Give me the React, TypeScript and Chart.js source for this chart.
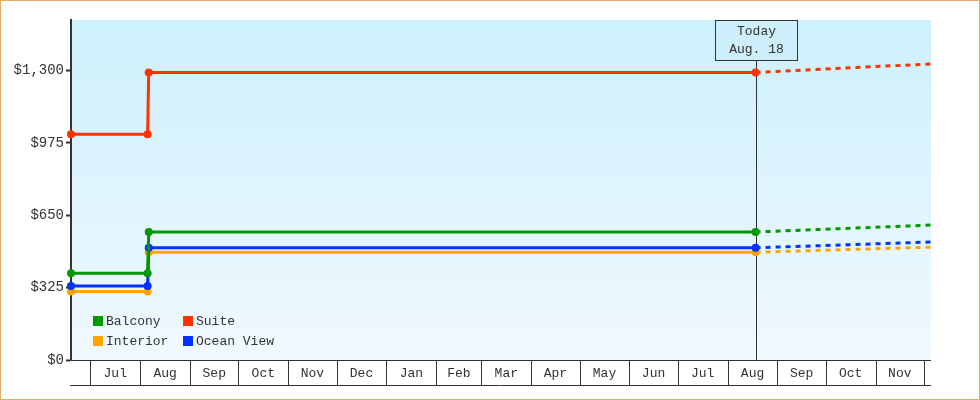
import React, { useEffect, useRef } from 'react';
import { Chart, registerables } from 'chart.js';

Chart.register(...registerables);

// x values are days counted from Jul 1 of the first year
const seriesNames = ['Balcony', 'Suite', 'Interior', 'Ocean View'];
const seriesColors = ['#009900', '#ff3300', '#ffa500', '#0033ff'];
const historyDays = [-12, 35.6, 36.3, 413.4];
const balconyPrices = [390, 390, 575, 575];
const suitePrices = [1014, 1014, 1291, 1291];
const interiorPrices = [308, 308, 484, 484];
const oceanViewPrices = [332, 332, 504, 504];
const forecastDays = [413.4, 522.4];
const balconyForecast = [575, 606];
const suiteForecast = [1291, 1330];
const interiorForecast = [484, 507];
const oceanViewForecast = [504, 530];
const yTicks = [0, 325, 650, 975, 1300];
const monthLabels = ['Jun', 'Jul', 'Aug', 'Sep', 'Oct', 'Nov', 'Dec', 'Jan', 'Feb', 'Mar', 'Apr', 'May', 'Jun', 'Jul', 'Aug', 'Sep', 'Oct', 'Nov', 'Dec'];
const monthStarts = [-30, 0, 31, 62, 92, 123, 153, 184, 215, 243, 274, 304, 335, 365, 396, 427, 457, 488, 518, 549];
const todayDay = 413.4;
const todayLines = ['Today', 'Aug. 18'];

const FONT = '"Liberation Mono", "DejaVu Sans Mono", monospace';
const INK = '#333333';

const pts = (xs: number[], ys: number[]) => xs.map((x, i) => ({ x, y: ys[i] }));

const chartDecor = {
  id: 'chartDecor',
  beforeDraw(chart: any) {
    const { ctx, chartArea: a, width, height } = chart;
    ctx.save();
    ctx.fillStyle = '#ffffff';
    ctx.fillRect(0, 0, width, height);
    ctx.strokeStyle = '#e9aa66';
    ctx.lineWidth = 1;
    ctx.strokeRect(0.5, 0.5, width - 1, height - 1);
    const g = ctx.createLinearGradient(0, a.top, 0, a.bottom);
    g.addColorStop(0, '#ccf0fd');
    g.addColorStop(1, '#f1f9fe');
    ctx.fillStyle = g;
    ctx.fillRect(a.left, a.top, a.right - a.left, a.bottom - a.top);
    ctx.restore();
  },
  beforeDatasetsDraw(chart: any) {
    const { ctx, chartArea: a } = chart;
    const xs = chart.scales.x;
    const tx = Math.round(xs.getPixelForValue(todayDay)) + 0.5;
    const bw = 82, bh = 40;
    ctx.save();
    ctx.strokeStyle = INK;
    ctx.lineWidth = 1;
    ctx.beginPath();
    ctx.moveTo(tx, a.top + bh);
    ctx.lineTo(tx, a.bottom);
    ctx.stroke();
    ctx.fillStyle = '#cdeffc';
    ctx.fillRect(tx - bw / 2, a.top + 0.5, bw, bh);
    ctx.strokeRect(tx - bw / 2, a.top + 0.5, bw, bh);
    ctx.fillStyle = INK;
    ctx.font = `13px ${FONT}`;
    ctx.textAlign = 'center';
    ctx.textBaseline = 'middle';
    todayLines.forEach((t, i) => ctx.fillText(t, tx, a.top + 12 + i * 17.5));
    ctx.restore();
  },
  afterDraw(chart: any) {
    const { ctx, chartArea: a } = chart;
    const xs = chart.scales.x;
    const lo = xs.min, hi = xs.max;
    const top = Math.round(a.bottom) + 0.5;
    const bottom = top + 25;
    ctx.save();
    ctx.strokeStyle = INK;
    ctx.lineWidth = 1;
    ctx.beginPath();
    ctx.moveTo(a.left, top);
    ctx.lineTo(a.right, top);
    ctx.moveTo(a.left - 1, bottom);
    ctx.lineTo(a.right, bottom);
    ctx.stroke();
    ctx.fillStyle = INK;
    ctx.font = `13px ${FONT}`;
    ctx.textAlign = 'center';
    ctx.textBaseline = 'middle';
    for (let i = 0; i < monthLabels.length; i++) {
      const s = monthStarts[i], e = monthStarts[i + 1];
      if (s > lo && s < hi) {
        const px = Math.round(xs.getPixelForValue(s)) + 0.5;
        ctx.beginPath();
        ctx.moveTo(px, top);
        ctx.lineTo(px, bottom);
        ctx.stroke();
      }
      if (s >= lo && e <= hi) {
        const cx = (xs.getPixelForValue(s) + xs.getPixelForValue(e)) / 2;
        ctx.fillText(monthLabels[i], cx, top + 13);
      }
    }

    // legend, two columns
    seriesNames.forEach((name, i) => {
      const col = i % 2, row = Math.floor(i / 2);
      const lx = a.left + 22 + col * 90;
      const ly = a.bottom - 44 + row * 20;
      ctx.fillStyle = seriesColors[i];
      ctx.fillRect(lx, ly, 10, 10);
      ctx.fillStyle = INK;
      ctx.textAlign = 'left';
      ctx.fillText(name, lx + 13, ly + 5.5);
    });
    ctx.restore();
  },
};

export default function App() {
  const canvasRef = useRef<HTMLCanvasElement>(null);

  useEffect(() => {
    document.body.style.margin = '0';
    if (!canvasRef.current) return;
    const history = [balconyPrices, suitePrices, interiorPrices, oceanViewPrices];
    const forecast = [balconyForecast, suiteForecast, interiorForecast, oceanViewForecast];
    // lower order is drawn on top
    const drawOrder = [1, 2, 4, 3];

    const datasets: any[] = [];
    seriesNames.forEach((name, i) => {
      datasets.push({
        label: name,
        data: pts(historyDays, history[i]),
        borderColor: seriesColors[i],
        backgroundColor: seriesColors[i],
        borderWidth: 3,
        pointRadius: 4,
        pointBorderWidth: 0,
        pointHoverRadius: 4,
        tension: 0,
        fill: false,
        clip: false,
        order: drawOrder[i],
      });
      datasets.push({
        label: name + ' forecast',
        data: pts(forecastDays, forecast[i]),
        borderColor: seriesColors[i],
        borderWidth: 3,
        borderDash: [5, 5],
        pointRadius: 0,
        tension: 0,
        fill: false,
        clip: false,
        order: drawOrder[i] + 0.5,
      });
    });

    const chart = new Chart(canvasRef.current, {
      type: 'line',
      data: { datasets },
      plugins: [chartDecor],
      options: {
        animation: false,
        responsive: false,
        layout: { padding: { top: 20, right: 49, bottom: 40, left: 0 } },
        plugins: { legend: { display: false }, tooltip: { enabled: false } },
        scales: {
          x: { type: 'linear', min: -12, max: 522.4, display: false },
          y: {
            type: 'linear',
            min: 0,
            max: 1527,
            afterBuildTicks: (s: any) => {
              s.ticks = yTicks.map((v) => ({ value: v }));
            },
            afterFit: (s: any) => {
              s.width = 71;
            },
            ticks: {
              color: INK,
              font: { family: FONT, size: 14 },
              padding: 2,
              callback: (v: any) => '$' + Number(v).toLocaleString('en-US'),
            },
            grid: { drawOnChartArea: false, tickLength: 5, tickWidth: 2, color: INK },
            border: { color: INK, width: 2 },
          },
        },
      } as any,
    });

    return () => chart.destroy();
  }, []);

  return (
    <div style={{ width: 980, height: 400 }}>
      <canvas ref={canvasRef} width={980} height={400} />
    </div>
  );
}
